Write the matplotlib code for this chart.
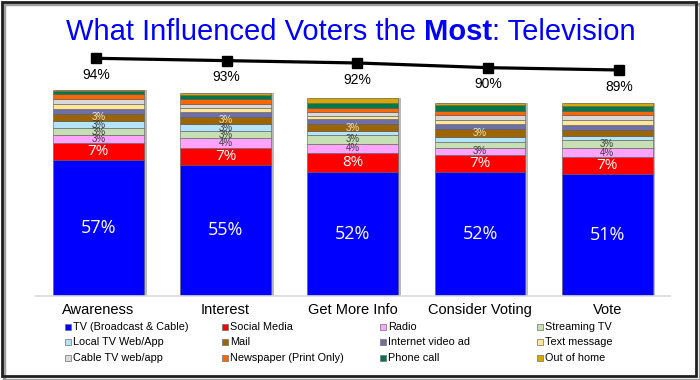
"""Recria o gráfico de barras empilhadas 'What Influenced Voters the Most: Television'."""

import matplotlib

matplotlib.use("Agg")
import matplotlib.pyplot as plt
from matplotlib.patches import Rectangle

# ── Dados ────────────────────────────────────────────────────────────────
categories = ["Awareness", "Interest", "Get More Info", "Consider Voting", "Vote"]

tv = [57, 55, 52, 52, 51]
social = [7, 7, 8, 7, 7]
radio = [3.2, 3.9, 3.8, 3.1, 3.8]
streaming = [2.9, 3.1, 3.4, 2.4, 3.3]
local_tv = [3.1, 2.9, 1.7, 2.1, 2.0]
mail = [3.1, 3.1, 3.2, 3.2, 2.4]
internet = [2.0, 2.1, 1.8, 2.0, 2.2]
text_msg = [2.2, 1.7, 1.3, 1.8, 2.0]
cable = [2.0, 1.4, 1.8, 2.0, 2.1]
newspaper = [2.1, 2.1, 1.8, 2.0, 1.8]
phone = [1.1, 1.8, 2.1, 2.4, 2.1]
out_of_home = [0.7, 1.0, 2.1, 0.7, 1.1]

influenced_most = [94, 93, 92, 90, 89]

series_names = [
    "TV (Broadcast & Cable)", "Social Media", "Radio", "Streaming TV",
    "Local TV Web/App", "Mail", "Internet video ad", "Text message",
    "Cable TV web/app", "Newspaper (Print Only)", "Phone call", "Out of home",
]
series_values = [tv, social, radio, streaming, local_tv, mail, internet,
                 text_msg, cable, newspaper, phone, out_of_home]

# ── Estilo ───────────────────────────────────────────────────────────────
cores = ["#0000FF", "#FF0000", "#FFA3FF", "#C6E0B4", "#B4E4FA", "#9C6500",
         "#6F6FA8", "#FFE699", "#D9D9D9", "#FF6600", "#00784A", "#D4A800"]
cor_rotulo = ["white", "white", "#3a3a3a", "#3a3a3a", "#3a3a3a", "#f2e6c8",
              "white", "#3a3a3a", "#3a3a3a", "white", "white", "#3a3a3a"]
tam_rotulo = [13, 11, 7, 7, 7, 7, 7, 7, 7, 7, 7, 7]

FONTE = ["Liberation Sans", "DejaVu Sans"]
plt.rcParams["font.family"] = FONTE

W, H = 700, 380
fig = plt.figure(figsize=(W / 100, H / 100), dpi=100)

# posição dos eixos em pixels
ax_left, ax_right, ax_bottom, ax_top = 35, 670, 296, 50
pos = [ax_left / W, (H - ax_bottom) / H, (ax_right - ax_left) / W,
       (ax_bottom - ax_top) / H]

ax = fig.add_axes(pos)
x = list(range(len(categories)))
px_por_cat = 127.2
ax.set_xlim(-(98.4 - ax_left) / px_por_cat, (ax_right - 98.4) / px_por_cat)
ax.set_ylim(0, (ax_bottom - ax_top) / 2.39)

# sombra das barras
totais = [sum(s[i] for s in series_values) for i in x]
ax.bar([xi + 0.022 for xi in x], totais, width=0.715, color="#b8b8b8",
       edgecolor="none", zorder=1)

base = [0.0] * len(x)
for nome, vals, cor, cl, fs in zip(series_names, series_values, cores,
                                   cor_rotulo, tam_rotulo):
    ax.bar(x, vals, bottom=base, width=0.715, color=cor, edgecolor="#5a5a5a",
           linewidth=0.4, zorder=2)
    for i, v in enumerate(vals):
        if round(v) >= 3:
            ax.text(x[i], base[i] + v / 2, f"{round(v)}%", ha="center",
                    va="center", color=cl, fontsize=fs, zorder=3,
                    family=["Open Sans", "DejaVu Sans"] if fs > 9 else FONTE)
    base = [b + v for b, v in zip(base, vals)]

for lado in ["left", "right", "top"]:
    ax.spines[lado].set_visible(False)
ax.spines["bottom"].set_color("#d9d9d9")
ax.spines["bottom"].set_linewidth(1.2)
ax.set_yticks([])
ax.set_xticks(x)
ax.set_xticklabels(categories, fontsize=10.5)
ax.tick_params(axis="x", length=0, pad=5)

# ── Linha (eixo sobreposto) ──────────────────────────────────────────────
ax2 = fig.add_axes(pos, frameon=False)
px_linha = 130.75
ax2.set_xlim(-(96 - ax_left) / px_linha, (ax_right - 96) / px_linha)
k = 2.34
ax2.set_ylim(94 - (ax_bottom - 58.3) / k, 94 + (58.3 - ax_top) / k)
ax2.plot(x, influenced_most, color="black", linewidth=2.3, marker="s",
         markersize=6.5, zorder=4)
for xi, v in zip(x, influenced_most):
    ax2.annotate(f"{v}%", (xi, v), xytext=(0, -12), textcoords="offset points",
                 ha="center", va="center", fontsize=10)
ax2.set_xticks([])
ax2.set_yticks([])

# ── Título (com "Most" em negrito) ───────────────────────────────────────
partes = [("What Influenced Voters the ", "normal"), ("Most", "bold"),
          (": Television", "normal")]
textos = [fig.text(0, 1 - 40 / H, t, fontsize=21, color="#0000FF",
                   fontweight=w, va="baseline") for t, w in partes]
fig.canvas.draw()
rend = fig.canvas.get_renderer()
larguras = [t.get_window_extent(rend).width for t in textos]
x0 = 351 - sum(larguras) / 2
for t, lw in zip(textos, larguras):
    t.set_x(x0 / W)
    x0 += lw

# ── Legenda manual (4 colunas x 3 linhas) ────────────────────────────────
col_x = [68, 225, 383, 540]
lin_y = [327, 342, 358]
for i, (nome, cor) in enumerate(zip(series_names, cores)):
    cx, cy = col_x[i % 4], lin_y[i // 4]
    fig.add_artist(Rectangle(((cx - 3) / W, 1 - (cy + 3) / H), 6 / W, 6 / H,
                             transform=fig.transFigure, facecolor=cor,
                             edgecolor="#707070", linewidth=0.5))
    fig.text((cx + 5) / W, 1 - cy / H, nome, fontsize=7.8, va="center",
             ha="left")

# ── Moldura ──────────────────────────────────────────────────────────────
fig.add_artist(Rectangle((4 / W, 0), (W - 4) / W, (H - 4) / H,
                         transform=fig.transFigure, facecolor="none",
                         edgecolor="#a0a0a0", linewidth=2.5))
fig.add_artist(Rectangle((1.5 / W, 4.5 / H), (W - 6) / W, (H - 6) / H,
                         transform=fig.transFigure, facecolor="none",
                         edgecolor="#202020", linewidth=2))

fig.savefig("out.png", dpi=100)
